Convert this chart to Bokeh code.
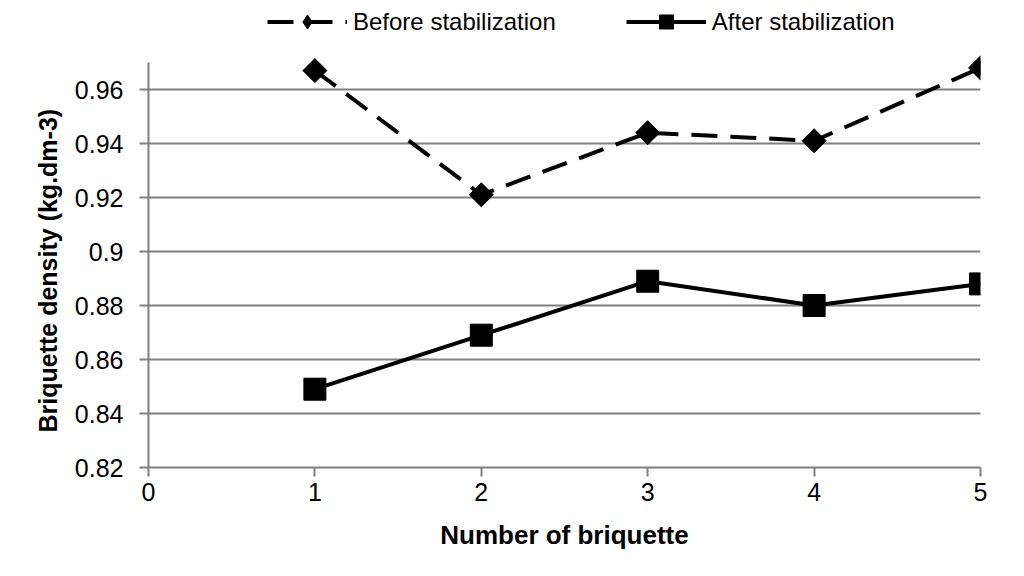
import math
from bokeh.plotting import figure
from bokeh.models import Legend, LegendItem, FixedTicker, ColumnDataSource, Title
from bokeh.embed import file_html
from bokeh.resources import INLINE

briquette = [1, 2, 3, 4, 5]
before = [0.967, 0.921, 0.944, 0.941, 0.968]
after = [0.849, 0.869, 0.889, 0.880, 0.888]
y_ticks = [0.82, 0.84, 0.86, 0.88, 0.90, 0.92, 0.94, 0.96]
y_tick_labels = ["0.82", "0.84", "0.86", "0.88", "0.9", "0.92", "0.94", "0.96"]
x_ticks = [0, 1, 2, 3, 4, 5]
y_min, y_max = 0.82, 0.97

FONT = "'Liberation Sans Narrow', 'Liberation Sans', Arial, sans-serif"

# the frame extends above the axis so the legend can sit in the top margin
p = figure(width=1008, height=560, output_backend="svg", toolbar_location=None,
           x_range=(0, 5), y_range=(y_min, y_min + (y_max - y_min) * 467 / 405),
           min_border_left=148, min_border_right=28, min_border_top=0, min_border_bottom=93)
p.outline_line_color = None
p.background_fill_color = "white"

src_b = ColumnDataSource(dict(x=briquette, y=before))
src_a = ColumnDataSource(dict(x=briquette, y=after))

lb = p.line("x", "y", source=src_b, line_color="black", line_width=4, line_dash="26 13")
# diamond swatch used by the legend (hidden under the rotated squares on the plot)
mb_leg = p.scatter("x", "y", source=src_b, marker="diamond", size=14,
                   fill_color="black", line_color="black")
mb = p.scatter("x", "y", source=src_b, marker="square", angle=math.pi / 4, size=17,
               fill_color="black", line_color="black")
la = p.line("x", "y", source=src_a, line_color="black", line_width=4)
ma = p.scatter("x", "y", source=src_a, marker="square", size=22,
               fill_color="black", line_color="black")

# axes
p.xaxis.ticker = FixedTicker(ticks=x_ticks)
p.yaxis.ticker = FixedTicker(ticks=y_ticks)
p.yaxis.bounds = (y_min, y_max)
p.yaxis.major_label_overrides = {t: l for t, l in zip(y_ticks, y_tick_labels)}
for ax in (p.xaxis[0], p.yaxis[0]):
    ax.axis_line_color = "#808080"
    ax.axis_line_width = 2
    ax.major_tick_line_color = "#808080"
    ax.major_tick_line_width = 2
    ax.major_tick_in = 0
    ax.major_tick_out = 9
    ax.minor_tick_line_color = None
    ax.major_label_text_font = FONT
    ax.major_label_text_color = "black"
    ax.axis_label_text_font = FONT
    ax.axis_label_text_font_style = "bold"
    ax.axis_label_text_color = "black"

p.xaxis.major_label_text_font_size = "25px"
p.yaxis.major_label_text_font_size = "25px"
p.xaxis.major_label_standoff = 6
p.yaxis.major_label_standoff = 16
p.xaxis.axis_label = "Number of briquette"
p.xaxis.axis_label_text_font_size = "26px"
p.xaxis.axis_label_standoff = 16

ytitle = Title(text="Briquette density (kg.dm-3)", align="left", offset=35,
               text_font=FONT, text_font_style="bold", text_font_size="25px",
               text_color="black", standoff=20)
p.add_layout(ytitle, "left")

p.xgrid.grid_line_color = None
p.ygrid.grid_line_color = "#808080"
p.ygrid.grid_line_width = 2

legend = Legend(items=[
    LegendItem(label="Before stabilization", renderers=[lb, mb_leg]),
    LegendItem(label="After stabilization", renderers=[la, ma]),
], orientation="horizontal", location=(119, 428),
    glyph_width=80, glyph_height=35, label_text_font=FONT,
    label_text_font_size="24px", label_text_color="black",
    spacing=70, padding=2, margin=0, label_standoff=6,
    border_line_color=None, background_fill_alpha=0)
p.add_layout(legend, "center")

open("out.html", "w").write(file_html(p, INLINE))
